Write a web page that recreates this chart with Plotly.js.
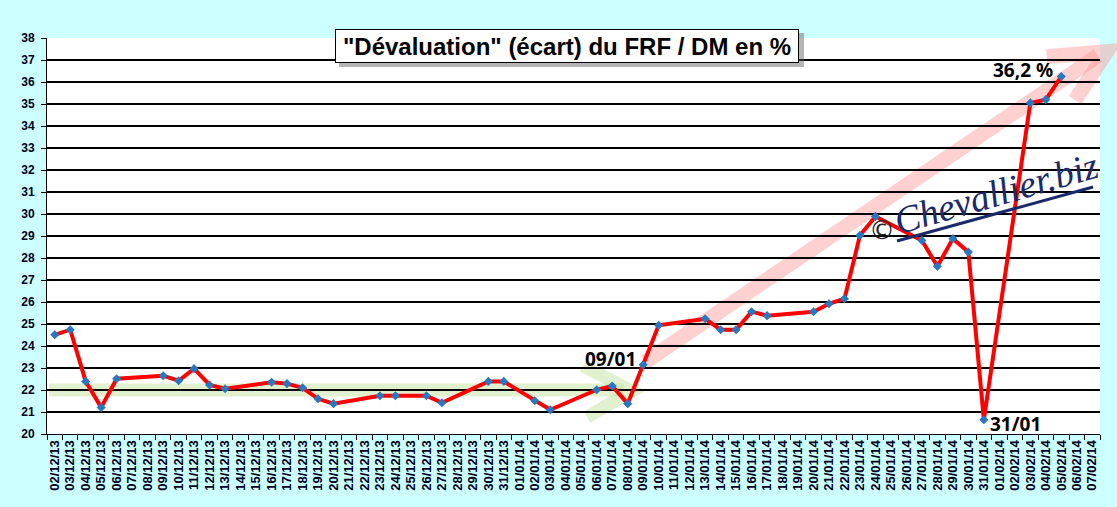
<!DOCTYPE html>
<html>
<head>
<meta charset="utf-8">
<script src="https://cdn.plot.ly/plotly-3.0.1.min.js"></script>
<style>html,body{margin:0;padding:0;background:#CCFFFF;}#chart{width:1117px;height:507px;}</style>
</head>
<body>
<div id="chart"></div>
<script>
// All calendar days shown on the category axis (tick labels)
const allDates = [
 '02/12/13','03/12/13','04/12/13','05/12/13','06/12/13','07/12/13','08/12/13','09/12/13','10/12/13','11/12/13',
 '12/12/13','13/12/13','14/12/13','15/12/13','16/12/13','17/12/13','18/12/13','19/12/13','20/12/13','21/12/13',
 '22/12/13','23/12/13','24/12/13','25/12/13','26/12/13','27/12/13','28/12/13','29/12/13','30/12/13','31/12/13',
 '01/01/14','02/01/14','03/01/14','04/01/14','05/01/14','06/01/14','07/01/14','08/01/14','09/01/14','10/01/14',
 '11/01/14','12/01/14','13/01/14','14/01/14','15/01/14','16/01/14','17/01/14','18/01/14','19/01/14','20/01/14',
 '21/01/14','22/01/14','23/01/14','24/01/14','25/01/14','26/01/14','27/01/14','28/01/14','29/01/14','30/01/14',
 '31/01/14','01/02/14','02/02/14','03/02/14','04/02/14','05/02/14','06/02/14','07/02/14'
];

// Dates with an observation
const obsDates = [
 '02/12/13','03/12/13','04/12/13','05/12/13','06/12/13','09/12/13','10/12/13','11/12/13','12/12/13','13/12/13',
 '16/12/13','17/12/13','18/12/13','19/12/13','20/12/13','23/12/13','24/12/13','26/12/13','27/12/13','30/12/13',
 '31/12/13','02/01/14','03/01/14','06/01/14','07/01/14','08/01/14','09/01/14','10/01/14','13/01/14','14/01/14',
 '15/01/14','16/01/14','17/01/14','20/01/14','21/01/14','22/01/14','23/01/14','24/01/14','27/01/14','28/01/14',
 '29/01/14','30/01/14','31/01/14','03/02/14','04/02/14','05/02/14'
];

// "Dévaluation" (écart) FRF / DM en %
const ecart = [
 24.51,24.74,22.39,21.21,22.51,22.65,22.42,22.97,22.23,22.06,
 22.35,22.29,22.10,21.60,21.38,21.74,21.74,21.74,21.42,22.39,
 22.39,21.51,21.10,22.01,22.18,21.38,23.15,24.94,25.24,24.74,
 24.74,25.56,25.38,25.56,25.92,26.15,29.03,29.89,28.80,27.62,
 28.88,28.27,20.65,35.05,35.20,36.25
];

const yTicks = [20,21,22,23,24,25,26,27,28,29,30,31,32,33,34,35,36,37,38];

const yTickFont = {family:'Liberation Sans, Arial, sans-serif', size:12, color:'#000022', weight:'bold'};
const xTickFont = {family:'Liberation Sans, Arial, sans-serif', size:13, color:'#000022', weight:'bold'};
const noteFont = {family:'Noto Sans, DejaVu Sans, sans-serif', size:19, color:'#000000', weight:'bold'};

const traces = [
  { // registers every calendar day on the axis
    x: allDates, y: allDates.map(() => null), type:'scatter', mode:'lines',
    showlegend:false, hoverinfo:'skip', name:'axis'
  },
  {
    x: obsDates, y: ecart, type:'scatter', mode:'lines+markers', name:'écart',
    line:{color:'#FF0000', width:4},
    marker:{symbol:'diamond', size:7, color:'#2878C0'},
    showlegend:false
  }
];

const green = 'rgba(200,228,165,0.55)';
const pink = 'rgba(255,150,150,0.45)';

const layout = {
  width:1117, height:507,
  paper_bgcolor:'#CCFFFF', plot_bgcolor:'#FFFFFF',
  margin:{l:47, r:17, t:38, b:73},
  showlegend:false,
  xaxis:{
    type:'category', categoryorder:'array', categoryarray:allDates,
    range:[-0.5, allDates.length-0.5],
    tickmode:'array', tickvals:allDates, ticktext:allDates,
    tickson:'boundaries', ticks:'outside', ticklen:5, tickcolor:'#000',
    tickangle:-90, tickfont:xTickFont,
    showline:true, linecolor:'#000', linewidth:1,
    showgrid:false, zeroline:false, fixedrange:true
  },
  yaxis:{
    range:[20,38], tickmode:'array', tickvals:yTicks,
    ticks:'outside', ticklen:5, tickcolor:'#000', tickfont:yTickFont,
    ticklabelstandoff:4,
    showgrid:true, gridcolor:'#000000', gridwidth:1.3,
    showline:true, linecolor:'#000', linewidth:1,
    zeroline:false, fixedrange:true
  },
  shapes:[
    // green horizontal arrow
    {type:'line', xref:'paper', yref:'paper', x0:0.002, y0:0.1111, x1:0.548, y1:0.1111,
     line:{color:green, width:13}, layer:'below'},
    {type:'path', xref:'paper', yref:'paper', path:'M0.509,0.1717 L0.5556,0.1086 L0.5128,0.0429',
     line:{color:green, width:13}, layer:'below'},
    // pink rising arrow
    {type:'line', xref:'paper', yref:'paper', x0:0.5679, y0:0.1818, x1:0.998, y1:0.955,
     line:{color:pink, width:15}, layer:'below'},
    {type:'path', xref:'paper', yref:'paper', path:'M0.9494,0.9528 L1.0064,0.9654 L0.9763,0.8434',
     line:{color:pink, width:15}, layer:'below'},
    // watermark underline
    {type:'line', xref:'paper', yref:'paper', x0:0.8072, y0:0.4874, x1:0.9934, y1:0.6237,
     line:{color:'#1A2A6C', width:3}, layer:'above'},
    // title shadow
    {type:'rect', xref:'paper', yref:'paper', x0:0.2773, y0:0.9268, x1:0.7189, y1:1.0126,
     fillcolor:'rgba(90,90,90,0.45)', line:{width:0}, layer:'above'}
  ],
  annotations:[
    {xref:'paper', yref:'paper', x:0.4943, y:0.9798, xanchor:'center', yanchor:'middle',
     text:'"Dévaluation" (écart) du FRF / DM en %', showarrow:false,
     font:{family:'Liberation Sans, Arial, sans-serif', size:24, color:'#000', weight:'bold'},
     bgcolor:'#FFFFFF', bordercolor:'#000', borderwidth:1, borderpad:2, width:458, height:28},
    {xref:'paper', yref:'paper', x:0.5347, y:0.1894, xanchor:'center', yanchor:'middle',
     text:'09/01', showarrow:false, font:noteFont},
    {xref:'paper', yref:'paper', x:0.9202, y:0.024, xanchor:'center', yanchor:'middle',
     text:'31/01', showarrow:false, font:noteFont},
    {xref:'paper', yref:'paper', x:0.9269, y:0.9192, xanchor:'center', yanchor:'middle',
     text:'36,2 %', showarrow:false, font:noteFont},
    {xref:'paper', yref:'paper', x:0.9013, y:0.6086, xanchor:'center', yanchor:'middle',
     text:'Chevallier.biz', showarrow:false, textangle:-16,
     font:{family:'Liberation Serif, DejaVu Serif, serif', size:38, color:'#1A2A6C', style:'italic'}},
    {xref:'paper', yref:'paper', x:0.793, y:0.5152, xanchor:'center', yanchor:'middle',
     text:'©', showarrow:false,
     font:{family:'DejaVu Sans, sans-serif', size:26, color:'#222222'}}
  ]
};

Plotly.newPlot('chart', traces, layout, {displayModeBar:false, staticPlot:true});
</script>
</body>
</html>
